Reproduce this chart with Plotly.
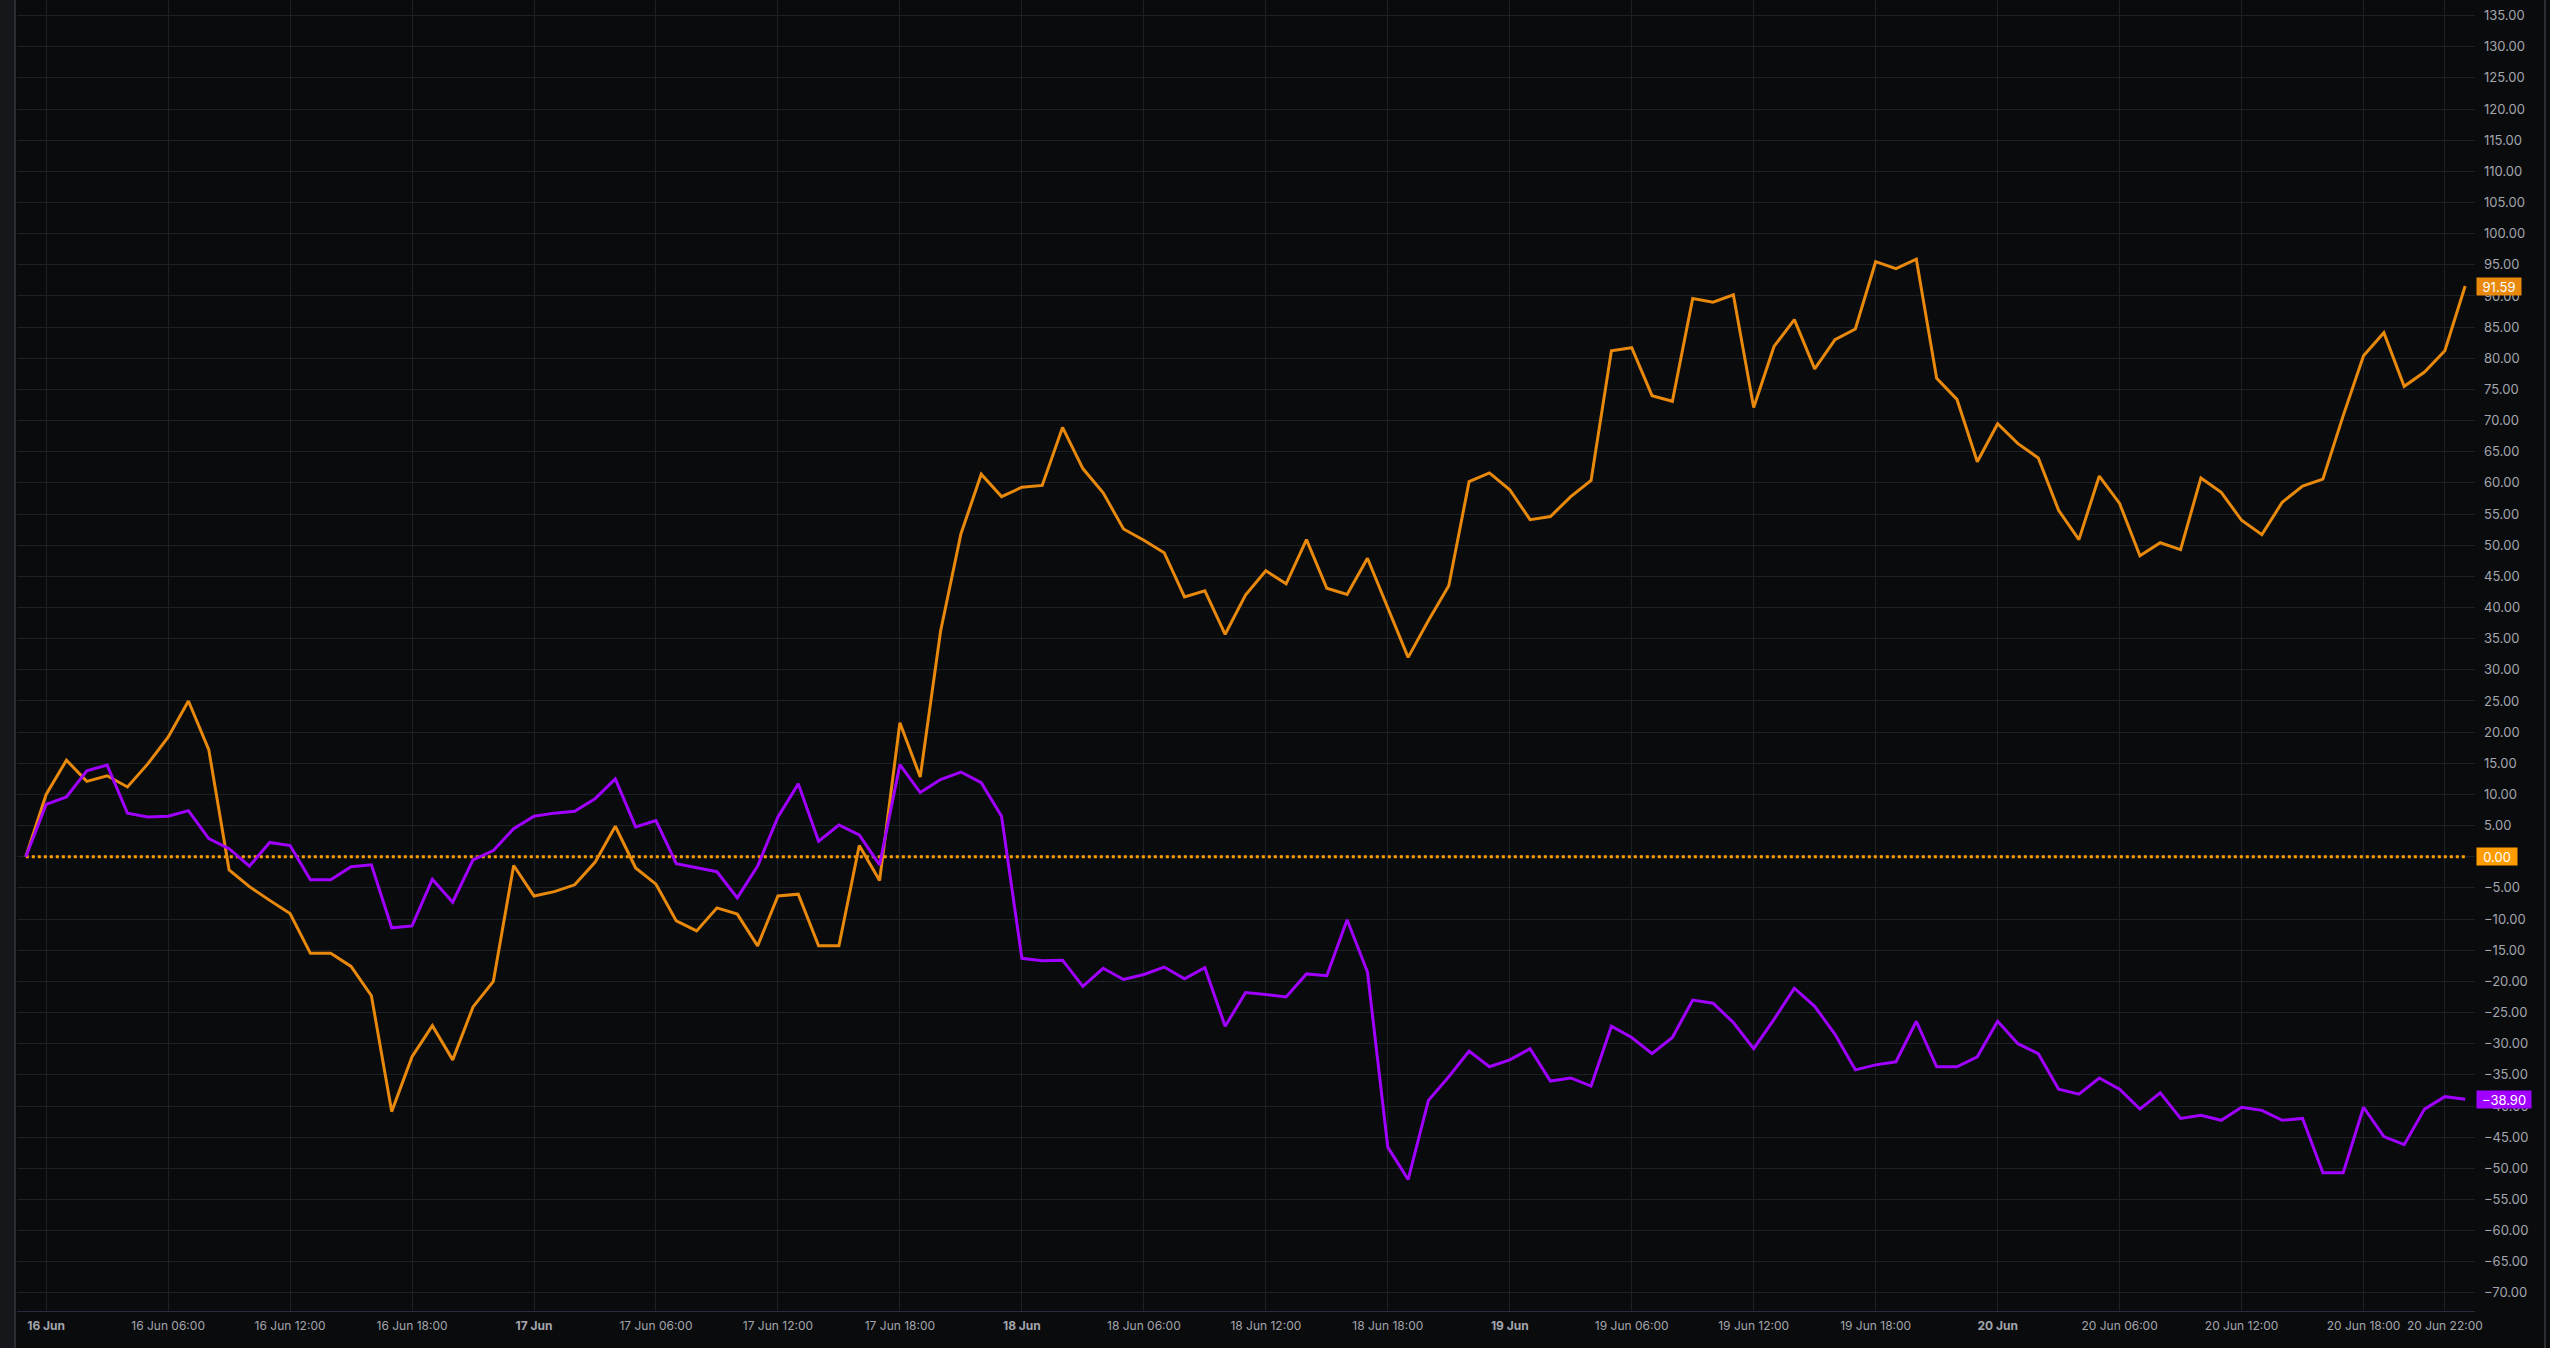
import pandas as pd
import plotly.graph_objects as go

# hourly timestamps: 15 Jun 23:00 -> 20 Jun 23:00
times = pd.date_range("2025-06-15 23:00", "2025-06-20 23:00", freq="h")

orange_vals = [
    0.0,
    # 16 Jun
    10.0, 15.5, 12.1, 13.0, 11.2, 14.9, 19.2, 25.0, 17.2, -2.1, -4.8, -7.0,
    -9.1, -15.5, -15.5, -17.6, -22.3, -40.9, -32.1, -27.1, -32.6, -24.1, -20.0, -1.4,
    # 17 Jun
    -6.3, -5.6, -4.5, -0.9, 4.9, -1.8, -4.4, -10.3, -11.9, -8.2, -9.2, -14.3,
    -6.3, -6.0, -14.3, -14.3, 1.8, -3.8, 21.5, 12.8, 36.2, 51.8, 61.4, 57.8,
    # 18 Jun
    59.3, 59.6, 68.9, 62.3, 58.4, 52.6, 50.8, 48.8, 41.7, 42.7, 35.7, 42.0,
    45.9, 43.8, 50.9, 43.1, 42.1, 47.9, 40.0, 32.0, 37.9, 43.5, 60.2, 61.6,
    # 19 Jun
    58.9, 54.1, 54.6, 57.8, 60.4, 81.2, 81.7, 74.0, 73.1, 89.6, 89.0, 90.2,
    72.1, 81.9, 86.2, 78.3, 83.0, 84.7, 95.5, 94.4, 95.9, 76.8, 73.4, 63.4,
    # 20 Jun
    69.5, 66.3, 64.0, 55.6, 50.9, 61.1, 56.7, 48.3, 50.4, 49.3, 60.8, 58.5,
    54.0, 51.7, 56.9, 59.5, 60.6, 70.8, 80.4, 84.1, 75.5, 77.8, 81.2, 91.59,
]

purple_vals = [
    0.0,
    # 16 Jun
    8.4, 9.6, 13.8, 14.7, 7.0, 6.4, 6.5, 7.4, 2.9, 1.3, -1.5, 2.3,
    1.8, -3.7, -3.7, -1.6, -1.3, -11.4, -11.1, -3.6, -7.3, -0.5, 1.0, 4.5,
    # 17 Jun
    6.5, 7.0, 7.3, 9.3, 12.5, 4.8, 5.8, -1.1, -1.7, -2.4, -6.6, -1.5,
    6.4, 11.7, 2.5, 5.1, 3.5, -1.3, 14.8, 10.3, 12.4, 13.6, 11.9, 6.5,
    # 18 Jun
    -16.3, -16.7, -16.6, -20.8, -17.9, -19.7, -18.9, -17.7, -19.6, -17.8, -27.2, -21.8,
    -22.1, -22.5, -18.8, -19.1, -10.1, -18.5, -46.6, -51.8, -39.1, -35.3, -31.2, -33.7,
    # 19 Jun
    -32.6, -30.8, -36.0, -35.5, -36.8, -27.2, -29.0, -31.6, -29.0, -23.0, -23.5, -26.6,
    -30.8, -26.1, -21.1, -24.0, -28.5, -34.2, -33.4, -32.9, -26.4, -33.7, -33.7, -32.1,
    # 20 Jun
    -26.4, -30.0, -31.6, -37.3, -38.1, -35.5, -37.3, -40.5, -37.9, -42.0, -41.5, -42.3,
    -40.2, -40.7, -42.3, -42.0, -50.7, -50.7, -40.2, -44.9, -46.2, -40.5, -38.5, -38.90,
]

tick_times = [
    "2025-06-16 00:00", "2025-06-16 06:00", "2025-06-16 12:00", "2025-06-16 18:00",
    "2025-06-17 00:00", "2025-06-17 06:00", "2025-06-17 12:00", "2025-06-17 18:00",
    "2025-06-18 00:00", "2025-06-18 06:00", "2025-06-18 12:00", "2025-06-18 18:00",
    "2025-06-19 00:00", "2025-06-19 06:00", "2025-06-19 12:00", "2025-06-19 18:00",
    "2025-06-20 00:00", "2025-06-20 06:00", "2025-06-20 12:00", "2025-06-20 18:00",
    "2025-06-20 22:00",
]
tick_labels = [
    "<b>16 Jun</b>", "16 Jun 06:00", "16 Jun 12:00", "16 Jun 18:00",
    "<b>17 Jun</b>", "17 Jun 06:00", "17 Jun 12:00", "17 Jun 18:00",
    "<b>18 Jun</b>", "18 Jun 06:00", "18 Jun 12:00", "18 Jun 18:00",
    "<b>19 Jun</b>", "19 Jun 06:00", "19 Jun 12:00", "19 Jun 18:00",
    "<b>20 Jun</b>", "20 Jun 06:00", "20 Jun 12:00", "20 Jun 18:00",
    "20 Jun 22:00",
]

ORANGE = "#e8890c"
PURPLE = "#a000ff"
ZERO_C = "#ff9d00"
BG = "#0a0b0d"
GRID = "#1d2025"
TXT = "#a3a6ad"

fig = go.Figure()
fig.add_trace(go.Scatter(
    x=[times[0], times[-1]], y=[0, 0], mode="lines",
    line=dict(color=ZERO_C, width=3, dash="dot"), hoverinfo="skip", showlegend=False))
fig.add_trace(go.Scatter(
    x=times, y=orange_vals, mode="lines",
    line=dict(color=ORANGE, width=3), showlegend=False))
fig.add_trace(go.Scatter(
    x=times, y=purple_vals, mode="lines",
    line=dict(color=PURPLE, width=3), showlegend=False))

def badge(val, color, text, w):
    return dict(
        xref="paper", x=1, xanchor="left", xshift=1,
        yref="y", y=val, yanchor="middle",
        text=text, showarrow=False, width=w, height=15, align="center",
        font=dict(family="Inter", size=13, color="#ffffff"),
        bgcolor=color, borderpad=1,
    )

annotations = [
    badge(orange_vals[-1], ORANGE, f"{orange_vals[-1]:.2f}", 42),
    badge(0, ZERO_C, "0.00", 38),
    badge(purple_vals[-1], PURPLE, "\u2212" + f"{abs(purple_vals[-1]):.2f}", 52),
]

W, H = 2550, 1348
ml, mr, mt, mb = 17, 75, 0, 37
pw = W - ml - mr
ph = H - mt - mb
shapes = [
    # left panel strip
    dict(type="rect", xref="paper", yref="paper",
         x0=-ml / pw, x1=-2 / pw, y0=-mb / ph, y1=1,
         fillcolor="#15171b", line=dict(width=0), layer="below"),
    dict(type="line", xref="paper", yref="paper",
         x0=-2 / pw, x1=-2 / pw, y0=-mb / ph, y1=1,
         line=dict(color="#2a2d32", width=2)),
    # right edge strip
    dict(type="line", xref="paper", yref="paper",
         x0=(pw + 70) / pw, x1=(pw + 70) / pw, y0=-mb / ph, y1=1,
         line=dict(color="#2a2d32", width=2)),
]

fig.update_layout(
    width=W, height=H,
    margin=dict(l=ml, r=mr, t=mt, b=mb),
    paper_bgcolor=BG, plot_bgcolor=BG,
    font=dict(family="Inter", color=TXT, size=12),
    showlegend=False,
    annotations=annotations,
    shapes=shapes,
    xaxis=dict(
        type="date",
        range=["2025-06-15 22:34", "2025-06-20 23:29"],
        tickvals=tick_times, ticktext=tick_labels,
        showgrid=True, gridcolor=GRID, gridwidth=1,
        zeroline=False, showline=True, linecolor="#2a2b40", linewidth=1,
        ticks="", tickfont=dict(family="Inter", size=12, color=TXT),
        ticklabelstandoff=4,
    ),
    yaxis=dict(
        side="right",
        range=[-72.9, 137.5],
        tickmode="linear", tick0=0, dtick=5, tickformat=".2f",
        showgrid=True, gridcolor=GRID, gridwidth=1,
        zeroline=False, showline=False,
        ticks="", tickfont=dict(family="Inter", size=13, color=TXT),
        ticklabelstandoff=8,
    ),
)

fig.write_html(
    "out.html",
    config={"displayModeBar": False},
    post_script="document.body.style.margin='0';document.body.style.background='%s';"
                "document.body.style.overflow='hidden';" % BG,
)
